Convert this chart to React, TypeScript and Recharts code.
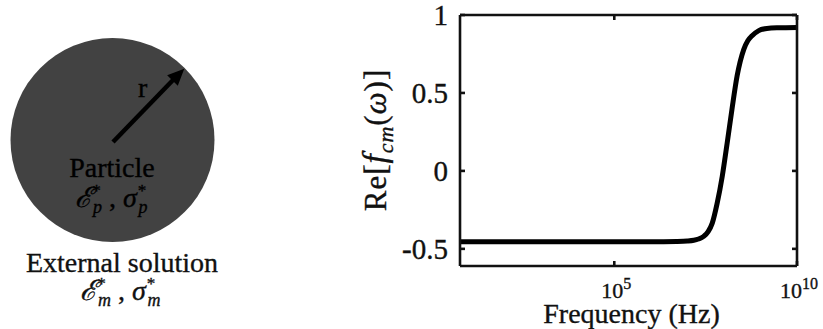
import React from 'react';
import { LineChart, Line, XAxis, YAxis } from 'recharts';

// Frequency (Hz)
const freqHz = [6, 100, 1e4, 1e6, 5e6, 1e7, 1.5e7, 2e7, 2.8e7, 3.7e7, 4.8e7, 6.5e7, 9e7, 1.23e8, 1.66e8, 2.3e8, 3.5e8, 4.5e8, 5.9e8, 9e8, 1.5e9, 3e9, 1e10];
// Re[f_cm(w)]
const reFcm = [-0.455, -0.455, -0.455, -0.455, -0.453, -0.45, -0.445, -0.437, -0.42, -0.39, -0.335, -0.21, -0.035, 0.18, 0.395, 0.61, 0.78, 0.835, 0.867, 0.9, 0.914, 0.918, 0.92];

const xTicks = [1e5, 1e10];
const xTickExp = ['5', '10'];
const yTicks = [-0.5, 0, 0.5, 1];
const yTickLabels = ['-0.5', '0', '0.5', '1'];
const xDomain = [6, 1e10];
const yDomain = [-0.61, 1];

const data = freqHz.map((f, i) => ({ f, v: reFcm[i] }));

const SERIF = 'Liberation Serif, Times New Roman, DejaVu Serif, serif';
const INK = '#111';
const FRAME_W = 2.6;
const TICK_LEN = 5;
const TXT_STROKE = 0.35;

const serif = (size: number, extra: any = {}) => ({ fontFamily: SERIF, fontSize: size, ...extra });

const BottomTick = (props: any) => {
  const { x, y, payload } = props;
  const i = xTicks.indexOf(payload.value);
  return (
    <g>
      <line x1={x} y1={y} x2={x} y2={y - TICK_LEN} stroke={INK} strokeWidth={FRAME_W} />
      <text x={x} y={y + 32} dx={2} textAnchor="middle" style={serif(22)} fill={INK} stroke={INK} strokeWidth={TXT_STROKE}>
        10<tspan dy={-9} style={serif(16)}>{xTickExp[i]}</tspan>
      </text>
    </g>
  );
};

const TopTick = (props: any) => {
  const { x, y } = props;
  return <line x1={x} y1={y} x2={x} y2={y + TICK_LEN} stroke={INK} strokeWidth={FRAME_W} />;
};

const LeftTick = (props: any) => {
  const { x, y, payload } = props;
  const i = yTicks.indexOf(payload.value);
  return (
    <g>
      <line x1={x} y1={y} x2={x + TICK_LEN} y2={y} stroke={INK} strokeWidth={FRAME_W} />
      <text x={x - 12} y={y + 10} textAnchor="end" style={serif(29)} fill={INK} stroke={INK} strokeWidth={TXT_STROKE}>
        {yTickLabels[i]}
      </text>
    </g>
  );
};

const RightTick = (props: any) => {
  const { x, y } = props;
  return <line x1={x} y1={y} x2={x - TICK_LEN} y2={y} stroke={INK} strokeWidth={FRAME_W} />;
};

const XLabel = (props: any) => {
  const vb = props.viewBox || {};
  const cx = vb.x + vb.width / 2 + 3;
  return (
    <text x={cx} y={323} textAnchor="middle" style={serif(28)} fill={INK} stroke={INK} strokeWidth={TXT_STROKE}>
      Frequency (Hz)
    </text>
  );
};

const YLabel = (props: any) => {
  const vb = props.viewBox || {};
  const bx = vb.x + vb.width - 74;
  const cy = 140;
  return (
    <text
      x={bx}
      y={cy}
      transform={`rotate(-90, ${bx}, ${cy})`}
      textAnchor="middle"
      style={serif(31, { letterSpacing: 1 })}
      fill={INK}
      stroke={INK}
      strokeWidth={TXT_STROKE}
    >
      Re[<tspan style={serif(33, { fontStyle: 'italic' })}>f</tspan>
      <tspan style={serif(22, { fontStyle: 'italic' })} dy={7}>cm</tspan>
      <tspan dy={-7}>(</tspan>
      <tspan style={serif(31, { fontStyle: 'italic' })}>ω</tspan>)]
    </text>
  );
};

const SupSub = ({ x, y, sub, color }: any) => (
  <text x={x} y={y} textAnchor="middle" style={serif(28, { fontStyle: 'italic' })} fill={color} stroke={color} strokeWidth={TXT_STROKE}>
    ℰ<tspan style={serif(17)} dy={-11}>*</tspan>
    <tspan style={serif(18, { fontStyle: 'italic' })} dx={-7} dy={17}>{sub}</tspan>
    <tspan style={serif(28, { fontStyle: 'normal' })} dy={-6}> , </tspan>
    <tspan>σ</tspan>
    <tspan style={serif(17)} dy={-11}>*</tspan>
    <tspan style={serif(18, { fontStyle: 'italic' })} dx={-7} dy={17}>{sub}</tspan>
  </text>
);

const Diagram = () => {
  const tip = { x: 183, y: 70 };
  return (
    <svg width={250} height={329} style={{ position: 'absolute', left: 0, top: 0, pointerEvents: 'none' }}>
      <circle cx={112.5} cy={140} r={102} fill="#424242" />
      <line x1={113} y1={142} x2={174} y2={79} stroke="#000" strokeWidth={4.5} />
      <polygon points={`${tip.x},${tip.y} 177.5,84.5 168.5,75.5`} fill="#000" stroke="#000" strokeWidth={1.5} />
      <text x={138} y={97} style={serif(28)} fill="#000" stroke="#000" strokeWidth={TXT_STROKE}>r</text>
      <text x={112} y={177} textAnchor="middle" style={serif(28)} fill="#000" stroke="#000" strokeWidth={TXT_STROKE}>Particle</text>
      <SupSub x={111} y={207} sub="p" color="#000" />
      <text x={122} y={272} textAnchor="middle" style={serif(28)} fill={INK} stroke={INK} strokeWidth={TXT_STROKE}>External solution</text>
      <SupSub x={120} y={300} sub="m" color={INK} />
    </svg>
  );
};

export default function App() {
  return (
    <div style={{ position: 'absolute', left: 0, top: 0, width: 823, height: 329, background: '#fff', overflow: 'hidden' }}>
      <LineChart width={823} height={329} data={data} margin={{ top: 0, right: 0, bottom: 0, left: 0 }}>
        <XAxis
          xAxisId="bottom"
          dataKey="f"
          type="number"
          scale="log"
          domain={xDomain}
          allowDataOverflow
          ticks={xTicks}
          orientation="bottom"
          height={63}
          axisLine={{ stroke: INK, strokeWidth: FRAME_W }}
          tickLine={false}
          tickSize={0}
          tickMargin={0}
          tick={<BottomTick />}
          interval={0}
          label={<XLabel />}
        />
        <XAxis
          xAxisId="top"
          dataKey="f"
          type="number"
          scale="log"
          domain={xDomain}
          allowDataOverflow
          ticks={xTicks}
          orientation="top"
          height={15}
          axisLine={{ stroke: INK, strokeWidth: FRAME_W }}
          tickLine={false}
          tickSize={0}
          tickMargin={0}
          tick={<TopTick />}
          interval={0}
        />
        <YAxis
          yAxisId="left"
          type="number"
          domain={yDomain}
          allowDataOverflow
          ticks={yTicks}
          width={460}
          axisLine={{ stroke: INK, strokeWidth: FRAME_W }}
          tickLine={false}
          tickSize={0}
          tickMargin={0}
          tick={<LeftTick />}
          interval={0}
          label={<YLabel />}
        />
        <YAxis
          yAxisId="right"
          orientation="right"
          type="number"
          domain={yDomain}
          allowDataOverflow
          ticks={yTicks}
          width={26}
          axisLine={{ stroke: INK, strokeWidth: FRAME_W }}
          tickLine={false}
          tickSize={0}
          tickMargin={0}
          tick={<RightTick />}
          interval={0}
        />
        <Line
          xAxisId="bottom"
          yAxisId="left"
          dataKey="v"
          type="monotone"
          stroke="#000"
          strokeWidth={5}
          dot={false}
          isAnimationActive={false}
        />
      </LineChart>
      <Diagram />
    </div>
  );
}
